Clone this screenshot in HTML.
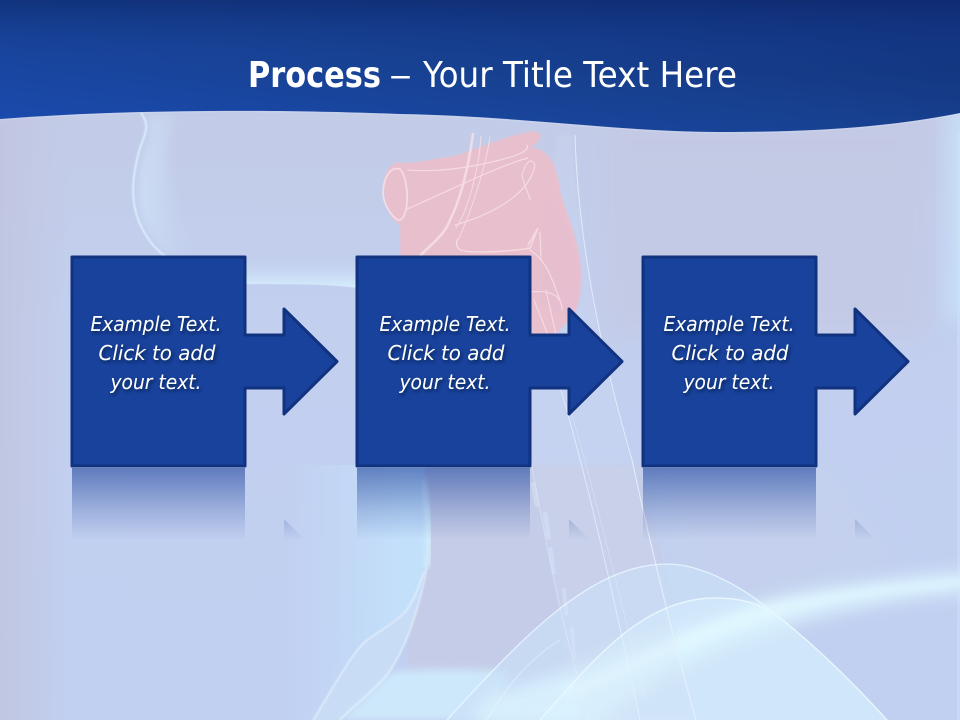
<!DOCTYPE html>
<html><head><meta charset="utf-8"><style>
html,body{margin:0;padding:0;width:960px;height:720px;overflow:hidden;background:#c3cfeb}
svg{display:block}
</style></head><body>
<svg xmlns="http://www.w3.org/2000/svg" width="960" height="720" viewBox="0 0 960 720">
<defs>
<linearGradient id="hd" x1="0" y1="1" x2="1" y2="0"><stop offset="0" stop-color="#1a4bb0"/><stop offset=".5" stop-color="#17408f"/><stop offset="1" stop-color="#102c72"/></linearGradient>
<linearGradient id="hd2" x1="0" y1="0" x2="0" y2="1"><stop offset="0" stop-color="#0e2a70" stop-opacity=".6"/><stop offset="1" stop-color="#1a4bb0" stop-opacity="0"/></linearGradient>
<linearGradient id="bg" x1="0" y1="0" x2="0" y2="1"><stop offset="0" stop-color="#c3cae3"/><stop offset=".45" stop-color="#c2cfef"/><stop offset="1" stop-color="#c1d0f1"/></linearGradient>
<linearGradient id="lf" x1="0" y1="0" x2="1" y2="0"><stop offset="0" stop-color="#c1c6e0"/><stop offset="1" stop-color="#c1c6e0" stop-opacity="0"/></linearGradient>
<linearGradient id="rf" x1="0" y1="0" x2="0" y2="1"><stop offset="0" stop-color="#24499f" stop-opacity=".62"/><stop offset=".6" stop-color="#24499f" stop-opacity=".22"/><stop offset="1" stop-color="#24499f" stop-opacity="0"/></linearGradient>
<linearGradient id="rfa" x1="0" y1="0" x2="0" y2="1"><stop offset="0" stop-color="#24499f" stop-opacity=".2"/><stop offset="1" stop-color="#24499f" stop-opacity="0"/></linearGradient>
<linearGradient id="gl" x1="0" y1="0" x2="0" y2="1"><stop offset="0" stop-color="#c3d5f2" stop-opacity="0"/><stop offset="1" stop-color="#d6eefd"/></linearGradient>
<linearGradient id="ch" x1="0" y1="0" x2="1" y2="0"><stop offset="0" stop-color="#d4eafd" stop-opacity=".6"/><stop offset="1" stop-color="#c6d2ec" stop-opacity="0"/></linearGradient>
<linearGradient id="lb" gradientUnits="userSpaceOnUse" x1="285" y1="0" x2="400" y2="0"><stop offset="0" stop-color="#c3def9" stop-opacity="0"/><stop offset="1" stop-color="#c3e0fb"/></linearGradient>
<filter id="b4" x="-30%" y="-30%" width="160%" height="160%"><feGaussianBlur stdDeviation="4"/></filter>
<filter id="b1" x="-10%" y="-10%" width="120%" height="120%"><feGaussianBlur stdDeviation=".7"/></filter>
<filter id="b2" x="-20%" y="-20%" width="140%" height="140%"><feGaussianBlur stdDeviation="2"/></filter>
<filter id="b8" x="-30%" y="-60%" width="160%" height="220%"><feGaussianBlur stdDeviation="8"/></filter>
<filter id="b14" x="-40%" y="-80%" width="180%" height="260%"><feGaussianBlur stdDeviation="12"/></filter>
<filter id="ts" x="-10%" y="-20%" width="120%" height="150%"><feDropShadow dx="1.5" dy="2" stdDeviation="1.6" flood-color="#06153f" flood-opacity=".8"/></filter>
</defs>

<rect width="960" height="720" fill="url(#bg)"/>
<rect width="70" height="720" fill="url(#lf)"/>
<rect x="600" y="110" width="330" height="230" fill="#c4c9e3" opacity=".7" filter="url(#b14)"/>
<rect x="948" y="100" width="30" height="220" fill="#c9e3fa" opacity=".85" filter="url(#b14)"/>
<rect x="957" y="130" width="3" height="590" fill="#cfe6fb" opacity=".4"/>

<!-- left neck glow -->
<path d="M285 465H425C430 510 432 540 427 567C420 590 415 600 405 612C370 635 340 680 312 720H285Z" fill="url(#lb)"/>
<!-- neck body -->
<path d="M424 465H640L690 680H420C395 675 412 620 427 567C432 540 430 510 424 465Z" fill="#c5cce7" filter="url(#b2)"/>
<path d="M640 465H820L900 560L700 640Z" fill="#c5d1ed" opacity=".8" filter="url(#b14)"/>
<!-- shoulder fold -->
<path d="M313 720C335 685 350 655 367 640C385 628 397 620 405 612C412 604 418 590 424 572C418 615 405 650 387 675C375 690 355 705 340 720Z" fill="#c8dcf5"/>
<path d="M340 720C362 700 378 685 392 672C430 668 470 668 510 672L490 720Z" fill="#cfebfc" opacity=".9" filter="url(#b4)"/>

<!-- shoulder fills -->
<path d="M447 720C520 640 590 564 667 564C700 564 740 585 770 610C810 640 860 690 887 720Z" fill="#cae0f8" opacity=".65"/>
<path d="M540 720C590 665 640 598 715 598C745 598 765 605 785 622C820 650 860 690 887 720Z" fill="#d2e9fb" opacity=".8"/>
<path d="M490 695C580 672 670 628 770 598C840 582 910 576 965 570L965 594C880 600 810 618 740 642C680 665 630 695 600 725L470 725Z" fill="#dcf5ff" opacity=".8" filter="url(#b8)"/>
<path d="M560 690C630 660 700 622 775 602C840 590 900 584 965 578V586C880 592 800 606 730 632C670 655 620 680 580 698Z" fill="#e4faff" opacity=".6" filter="url(#b4)"/>

<!-- neck column -->
<path d="M558 133L572 135C578 240 600 350 632 460L696 720H580L531 460L530 335Z" fill="#d4e0f6" opacity=".2" filter="url(#b2)"/>
<g fill="none" stroke="#e5f2fe" stroke-linecap="round">
<path d="M632 460C645 520 668 620 696 720" stroke-width="1.1" opacity=".85"/>
<path d="M558 380C585 470 610 580 640 720" stroke-width="1" opacity=".75"/>
<path d="M564 390C590 470 616 585 646 700" stroke-width=".8" opacity=".4"/>
<path d="M531 460C545 540 565 640 590 720" stroke-width="1" opacity=".45"/>
</g>
<g fill="#d8e6fa" opacity=".5">
<rect x="532" y="482" width="5" height="25" rx="2" transform="rotate(-10 535 490)"/>
<rect x="544" y="512" width="5" height="28" rx="2" transform="rotate(-8 545 524)"/>
<rect x="550" y="547" width="4" height="28" rx="2" transform="rotate(-8 552 560)"/>
<rect x="563" y="588" width="4" height="28" rx="2" transform="rotate(-6 565 600)"/>
<rect x="571" y="627" width="4" height="32" rx="2" transform="rotate(-5 573 640)"/>
</g>

<!-- chin -->
<path d="M146 118C152 128 148 140 142 160C136 190 137 212 150 234C158 246 164 252 172 258H205C165 220 165 150 175 114Z" fill="url(#ch)" filter="url(#b4)"/>
<path d="M141 113C150 125 146 132 140 148C131 180 130 205 142 228C150 244 160 253 168 258" fill="none" stroke="#dbf0ff" stroke-width="1.8" filter="url(#b1)"/>
<path d="M246 256H357V288C320 283 280 285 246 284Z" fill="url(#gl)"/>

<!-- larynx -->
<path d="M400 163C420 163 440 158 458 155C480 148 510 134 535 131C544 134 542 142 530 147C548 150 556 160 560 190C566 215 578 235 581 270C582 290 578 305 574 315L555 335H400V225C385 215 382 190 385 175C390 165 395 161 400 163Z" fill="#f2bcc6" opacity=".8" filter="url(#b1)"/>
<path d="M545 195C558 215 580 240 580 280C580 300 576 312 565 320L540 300Z" fill="#e4bdd0" opacity=".55" filter="url(#b2)"/>
<g fill="none" stroke="#fae4e9" stroke-linecap="round" opacity=".75">
<path d="M400 169C390 166 383 178 383 195C385 208 395 221 400 220C410 216 409 178 400 169Z" stroke-width="1.8"/>
<path d="M408 170C430 172 460 170 500 160C520 155 530 150 527 145" stroke-width="1.2"/>
<path d="M405 210C440 195 500 165 528 158" stroke-width="1.2"/>
<path d="M473 134C468 170 460 200 450 220C445 235 430 245 420 256" stroke-width="2.6"/>
<path d="M481 136C479 170 468 210 456 228" stroke-width="1"/>
<path d="M490 137C485 170 470 215 458 240" stroke-width="1"/>
<path d="M455 225C490 215 530 195 535 165C530 155 525 165 522 175C525 190 530 195 530 200" stroke-width="1.2"/>
<path d="M457 240C455 250 460 252 480 252C500 252 520 250 530 248L538 228L528 245" stroke-width="1.5"/>
<path d="M540 232L541 260M530 250C548 262 552 280 560 300" stroke-width="1.2"/>
<path d="M530 292C550 290 562 295 562 310" stroke-width="1.2"/>
<path d="M546 290L556 335M534 300L548 335" stroke-width="1.1"/>
</g>
<path d="M575 135C578 240 600 350 632 460" fill="none" stroke="#e5f1fd" stroke-width="1" opacity=".85"/>

<!-- shoulder lines and neck contour -->
<g fill="none" stroke="#eaf7ff" stroke-linecap="round">
<path d="M447 720C520 640 590 564 667 564C700 564 740 585 770 610" stroke-width="1.3" opacity=".85"/>
<path d="M540 720C590 665 640 598 715 598C745 598 765 605 785 622C820 650 860 690 887 720" stroke-width="1.5" opacity=".9"/>
<path d="M487 720C510 680 535 655 560 640" stroke-width="1" opacity=".6"/>
<path d="M313 720C335 685 350 655 367 640C385 628 397 620 405 612C412 604 418 590 424 572" stroke-width="1.6" opacity=".7" filter="url(#b1)"/>
<path d="M340 720C355 705 375 690 387 675C405 650 418 615 427 567" stroke-width="1.6" opacity=".7" filter="url(#b1)"/>
</g>
<path d="M423 480C428 515 432 540 427 567" fill="none" stroke="#d9f2ff" stroke-width="7" opacity=".7" filter="url(#b2)"/>

<!-- header -->
<path d="M0 0H960V113C900 125 830 132 720 132C620 132 520 116 400 114C300 110 140 108 0 119Z" fill="url(#hd)"/>
<path d="M0 0H960V70H0Z" fill="url(#hd2)"/>
<path d="M0 120C140 109 300 111 400 115C520 117 620 133 720 133C830 133 900 126 960 114" fill="none" stroke="#dbe9fb" stroke-width="1" opacity=".3"/>

<g font-family="'DejaVu Sans',sans-serif" font-size="36" fill="#fff">
<text x="248" y="87" font-weight="700" textLength="133" lengthAdjust="spacingAndGlyphs">Process</text>
<text x="389" y="87" textLength="23" lengthAdjust="spacingAndGlyphs">–</text>
<text x="423" y="87" textLength="314" lengthAdjust="spacingAndGlyphs">Your Title Text Here</text>
</g>

<!-- reflections -->
<g>
<rect x="72" y="468" width="173" height="72" fill="url(#rf)"/>
<rect x="357" y="468" width="173" height="72" fill="url(#rf)"/>
<rect x="643" y="468" width="173" height="72" fill="url(#rf)"/>
<path d="M284 519L303 538V540H284Z" fill="url(#rfa)"/>
<path d="M569 519L588 538V540H569Z" fill="url(#rfa)"/>
<path d="M855 519L874 538V540H855Z" fill="url(#rfa)"/>
</g>

<!-- process blocks -->
<g fill="#18429b" stroke="#11337f" stroke-width="3" stroke-linejoin="round">
<path d="M72 257H245V335H284V309L337 361.500L284 414V388H245V466H72Z"/>
<path d="M357 257H530V335H569V309L622 361.500L569 414V388H530V466H357Z"/>
<path d="M643 257H816V335H855V309L908 361.500L855 414V388H816V466H643Z"/>
</g>

<!-- labels -->
<g font-family="'DejaVu Sans',sans-serif" font-style="italic" font-size="20" fill="#fff" text-anchor="middle" filter="url(#ts)">
<text x="156" y="331" textLength="131" lengthAdjust="spacingAndGlyphs">Example Text.</text>
<text x="157" y="360" textLength="117" lengthAdjust="spacingAndGlyphs">Click to add</text>
<text x="156" y="389" textLength="91" lengthAdjust="spacingAndGlyphs">your text.</text>
<text x="445" y="331" textLength="131" lengthAdjust="spacingAndGlyphs">Example Text.</text>
<text x="446" y="360" textLength="117" lengthAdjust="spacingAndGlyphs">Click to add</text>
<text x="445" y="389" textLength="91" lengthAdjust="spacingAndGlyphs">your text.</text>
<text x="729" y="331" textLength="131" lengthAdjust="spacingAndGlyphs">Example Text.</text>
<text x="730" y="360" textLength="117" lengthAdjust="spacingAndGlyphs">Click to add</text>
<text x="729" y="389" textLength="91" lengthAdjust="spacingAndGlyphs">your text.</text>
</g>
</svg>
</body></html>
